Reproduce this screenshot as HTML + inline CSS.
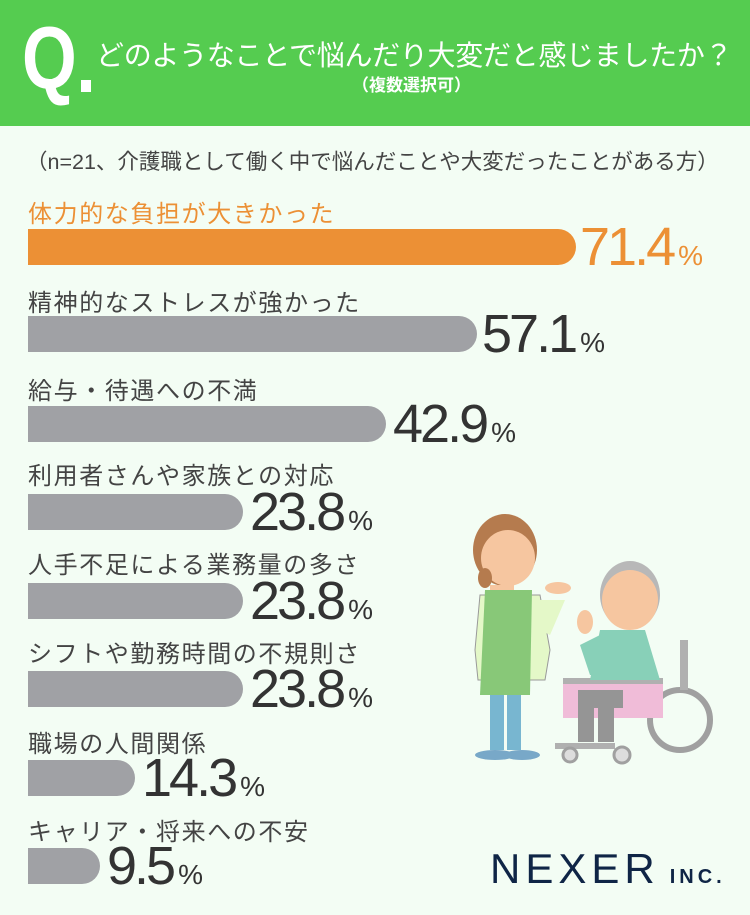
<!DOCTYPE html>
<html><head><meta charset="utf-8"><style>
body{margin:0;width:750px;height:915px;background:#f3fdf4;position:relative;overflow:hidden;font-family:"Liberation Sans","Noto Sans CJK JP",sans-serif;}
.hdr{position:absolute;left:0;top:0;width:750px;height:126px;background:#55cc50;}
.q{position:absolute;left:22px;top:14px;font-size:88px;color:#fff;font-family:"Liberation Sans",sans-serif;font-weight:bold;transform:scaleX(0.8);transform-origin:left;line-height:88px}
.qd{position:absolute;left:81px;top:80px;width:10px;height:12px;background:#fff}
.t1{position:absolute;left:96px;top:34px;font-size:28px;color:#fff;white-space:nowrap;letter-spacing:-0.3px}
.t2{position:absolute;left:352px;top:71px;font-size:17px;color:#fff;white-space:nowrap;font-weight:bold}
.note{position:absolute;left:26px;top:145px;font-size:21.5px;color:#444;white-space:nowrap;letter-spacing:0px}
.lab{position:absolute;left:28px;font-size:24px;color:#444;white-space:nowrap;letter-spacing:1.6px}
.bar{position:absolute;left:28px;height:36px;background:#a0a1a5;border-radius:0 18px 18px 0}
.val{position:absolute;font-size:54px;color:#333;white-space:nowrap;letter-spacing:-3px;line-height:54px}
.val span{font-size:28px;letter-spacing:0;margin-left:5px}
.or{color:#ec9035}
</style></head><body>
<div class="hdr"></div>
<div class="q">Q</div><div class="qd"></div>
<div class="t1">どのようなことで悩んだり大変だと感じましたか？</div>
<div class="t2">（複数選択可）</div>
<div class="note">（n=21、介護職として働く中で悩んだことや大変だったことがある方）</div>

<div class="lab or" style="top:194px">体力的な負担が大きかった</div>
<div class="bar" style="top:229px;width:548px;background:#ec9035"></div>
<div class="val or" style="left:580px;top:220px">71.4<span>%</span></div>

<div class="lab" style="top:283px">精神的なストレスが強かった</div>
<div class="bar" style="top:316px;width:449px"></div>
<div class="val" style="left:482px;top:307px">57.1<span>%</span></div>

<div class="lab" style="top:371px">給与・待遇への不満</div>
<div class="bar" style="top:406px;width:358px"></div>
<div class="val" style="left:393px;top:397px">42.9<span>%</span></div>

<div class="lab" style="top:456px">利用者さんや家族との対応</div>
<div class="bar" style="top:494px;width:215px"></div>
<div class="val" style="left:250px;top:485px">23.8<span>%</span></div>

<div class="lab" style="top:545px">人手不足による業務量の多さ</div>
<div class="bar" style="top:583px;width:215px"></div>
<div class="val" style="left:250px;top:574px">23.8<span>%</span></div>

<div class="lab" style="top:634px">シフトや勤務時間の不規則さ</div>
<div class="bar" style="top:671px;width:215px"></div>
<div class="val" style="left:250px;top:662px">23.8<span>%</span></div>

<div class="lab" style="top:724px">職場の人間関係</div>
<div class="bar" style="top:760px;width:107px"></div>
<div class="val" style="left:142px;top:751px">14.3<span>%</span></div>

<div class="lab" style="top:812px">キャリア・将来への不安</div>
<div class="bar" style="top:848px;width:72px"></div>
<div class="val" style="left:107px;top:839px">9.5<span>%</span></div>

<svg style="position:absolute;left:450px;top:500px" width="300" height="280" viewBox="0 0 300 280">
<ellipse cx="55" cy="50" rx="32" ry="36" fill="#b57b4e"/>
<ellipse cx="58" cy="58" rx="27" ry="28" fill="#f6c6a0"/>
<ellipse cx="35" cy="78" rx="7" ry="10" fill="#b57b4e"/>
<rect x="40" y="85" width="24" height="12" fill="#f6c6a0"/>
<path d="M30 95 L90 95 L100 150 L95 180 L28 180 L25 150Z" fill="#e4f8c8" stroke="#999" stroke-width="1"/>
<path d="M35 90 L82 90 L80 195 L30 195Z" fill="#88c878"/>
<path d="M90 100 L115 100 L100 135 L90 130Z" fill="#e4f8c8"/>
<ellipse cx="108" cy="88" rx="13" ry="6" fill="#f6c6a0"/>
<rect x="40" y="195" width="14" height="55" fill="#78b6d0"/><rect x="57" y="195" width="14" height="55" fill="#78b6d0"/>
<ellipse cx="45" cy="255" rx="20" ry="5" fill="#78a8c8"/><ellipse cx="72" cy="255" rx="18" ry="5" fill="#78a8c8"/>
<circle cx="230" cy="220" r="30" fill="none" stroke="#a0a0a0" stroke-width="6"/>
<rect x="113" y="180" width="100" height="38" fill="#f0bcd8"/>
<rect x="113" y="178" width="100" height="6" fill="#b0b0b0"/>
<rect x="105" y="243" width="60" height="6" fill="#b0b0b0"/>
<circle cx="120" cy="255" r="7" fill="#ddd" stroke="#a0a0a0" stroke-width="3"/>
<circle cx="172" cy="255" r="8" fill="#ddd" stroke="#a0a0a0" stroke-width="3"/>
<path d="M150 130 L195 130 L210 180 L140 180Z" fill="#88d0b8"/>
<path d="M130 145 L150 135 L160 175 L140 175Z" fill="#88d0b8"/>
<rect x="128" y="190" width="45" height="18" fill="#959595"/>
<rect x="128" y="200" width="16" height="42" fill="#959595"/><rect x="148" y="200" width="16" height="42" fill="#959595"/>
<ellipse cx="180" cy="95" rx="30" ry="34" fill="#b8b8b8"/>
<ellipse cx="180" cy="100" rx="28" ry="30" fill="#f6c6a0"/>
<rect x="230" y="140" width="8" height="50" fill="#b0b0b0"/>
<ellipse cx="135" cy="122" rx="8" ry="12" fill="#f6c6a0"/>
</svg>
<div style="position:absolute;left:490px;top:845px;font-size:42px;color:#0f2546;letter-spacing:5px;font-family:'Liberation Sans',sans-serif">NEXER<span style="font-size:20px;font-weight:bold;letter-spacing:4px;margin-left:10px">INC.</span></div>
</body></html>
